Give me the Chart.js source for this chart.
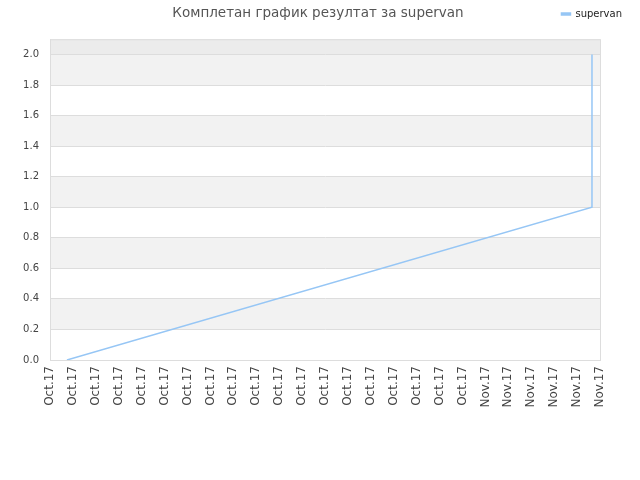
<!DOCTYPE html>
<html>
<head>
<meta charset="utf-8">
<script src="https://cdn.jsdelivr.net/npm/chart.js@4"></script>
<style>
	body { margin: 0; background: #fff; }
	#wrap { width: 640px; height: 480px; }
</style>
</head>
<body>
<div id="wrap"><canvas id="chart"></canvas></div>
<script>
const xLabels = [
	"Oct.17", "Oct.17", "Oct.17", "Oct.17", "Oct.17", "Oct.17", "Oct.17", "Oct.17", "Oct.17", "Oct.17",
	"Oct.17", "Oct.17", "Oct.17", "Oct.17", "Oct.17", "Oct.17", "Oct.17", "Oct.17", "Oct.17",
	"Nov.17", "Nov.17", "Nov.17", "Nov.17", "Nov.17", "Nov.17",
];
const yTicks = [0, 0.2, 0.4, 0.6, 0.8, 1.0, 1.2, 1.4, 1.6, 1.8, 2.0];
const pointX = [0.74, 23.65, 23.65];
const pointY = [0, 1, 2];
const seriesName = "supervan";
const titleText = "Комплетан график резултат за supervan";

const lineColor = "rgb(150, 198, 245)";

// alternating grey bands + frame around the plot area
const bandPlugin = {
	id: "bands",
	beforeDraw(chart) {
		const { ctx, chartArea, scales } = chart;
		const y = scales.y;
		const w = chartArea.right - chartArea.left;
		ctx.save();
		ctx.fillStyle = "#f2f2f2";
		for (let i = 1; i < yTicks.length - 1; i += 2) {
			const top = y.getPixelForValue(yTicks[i + 1]);
			const bottom = y.getPixelForValue(yTicks[i]);
			ctx.fillRect(chartArea.left, top, w, bottom - top);
		}
		ctx.fillStyle = "#ececec";
		const last = y.getPixelForValue(yTicks[yTicks.length - 1]);
		ctx.fillRect(chartArea.left, chartArea.top, w, last - chartArea.top);
		ctx.restore();
	},
	afterDraw(chart) {
		const { ctx, chartArea } = chart;
		ctx.save();
		ctx.strokeStyle = "#dddddd";
		ctx.lineWidth = 1;
		ctx.strokeRect(chartArea.left + 0.5, chartArea.top + 0.5, chartArea.right - chartArea.left, chartArea.bottom - chartArea.top);
		ctx.restore();
	},
};

new Chart(document.getElementById("chart"), {
	type: "line",
	data: {
		datasets: [
			{
				label: seriesName,
				data: pointX.map((x, i) => ({ x: x, y: pointY[i] })),
				borderColor: lineColor,
				backgroundColor: lineColor,
				borderWidth: 1.5,
				pointRadius: 0,
				tension: 0,
			},
		],
	},
	options: {
		responsive: true,
		maintainAspectRatio: false,
		animation: false,
		layout: { padding: { left: 6, right: 10, top: 1, bottom: 60 } },
		plugins: {
			title: {
				display: true,
				text: titleText,
				color: "#555",
				font: { family: "DejaVu Sans", size: 13.5, weight: "normal" },
				padding: { top: -24, bottom: 18 },
			},
			legend: {
				display: true,
				position: "top",
				align: "end",
				weight: 3000,
				labels: {
					color: "#222",
					font: { family: "DejaVu Sans", size: 10 },
					boxWidth: 9,
					boxHeight: 2,
					padding: 8,
				},
			},
			tooltip: { enabled: false },
		},
		scales: {
			x: {
				type: "linear",
				min: 0,
				max: xLabels.length - 1,
				grid: { display: false, drawTicks: false },
				border: { display: true, color: "#dddddd" },
				afterFit: (scale) => {
					scale.height = 60;
					scale.paddingRight = 40;
				},
				ticks: {
					stepSize: 1,
					autoSkip: false,
					minRotation: 90,
					maxRotation: 90,
					padding: 6,
					color: "#444",
					font: { family: "DejaVu Sans", size: 12 },
					callback: (v) => xLabels[v],
				},
			},
			y: {
				min: 0,
				max: 2.1,
				grid: { color: "#dddddd", drawTicks: false },
				border: { display: true, color: "#dddddd" },
				afterFit: (scale) => {
					scale.width = 44;
				},
				afterBuildTicks: (scale) => {
					scale.ticks = yTicks.map((v) => ({ value: v }));
				},
				ticks: {
					padding: 11,
					color: "#444",
					font: { family: "DejaVu Sans", size: 10 },
					callback: (v) => v.toFixed(1),
				},
			},
		},
	},
	plugins: [bandPlugin],
});
</script>
</body>
</html>
